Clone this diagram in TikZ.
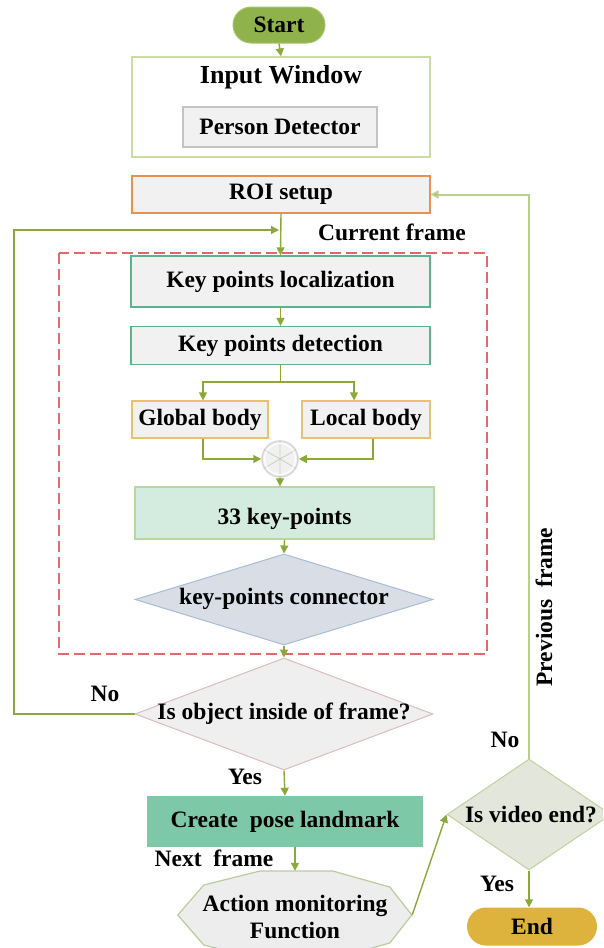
\documentclass[tikz,border=0pt]{standalone}
\usepackage{fontspec}
\setmainfont{Liberation Serif}
\usetikzlibrary{shapes.geometric,arrows.meta,calc}

\definecolor{linkgreen}{HTML}{8BA83A}
\definecolor{loopgreen}{HTML}{B9CF8F}
\definecolor{startfill}{HTML}{8FB24A}
\definecolor{startedge}{HTML}{A9C46E}
\definecolor{inputedge}{HTML}{CADCA4}
\definecolor{boxgray}{HTML}{F1F1F1}
\definecolor{pdedge}{HTML}{C4C4C4}
\definecolor{roiedge}{HTML}{E8914C}
\definecolor{kpedge}{HTML}{5FB08C}
\definecolor{bodyedge}{HTML}{E6C46C}
\definecolor{kpfill}{HTML}{D4ECDF}
\definecolor{kpline}{HTML}{B9D79F}
\definecolor{connfill}{HTML}{D9DDE6}
\definecolor{connedge}{HTML}{A8BCD5}
\definecolor{qfill}{HTML}{EFEFEF}
\definecolor{qedge}{HTML}{DCBCBC}
\definecolor{posefill}{HTML}{7DC9A7}
\definecolor{octfill}{HTML}{EDEDED}
\definecolor{octedge}{HTML}{BCCB9E}
\definecolor{vidfill}{HTML}{E3E6DA}
\definecolor{videdge}{HTML}{C0D29C}
\definecolor{endfill}{HTML}{DDB33D}
\definecolor{dashred}{HTML}{E06A6A}
\definecolor{sumedge}{HTML}{D6D6D6}
\definecolor{sumspoke}{HTML}{C9CFC2}

\tikzset{
  box/.style={rectangle, draw, line width=1.3pt, fill=boxgray, inner sep=0pt},
  pill/.style={rectangle, rounded corners=18pt, inner sep=0pt},
  decision/.style={diamond, draw, line width=1pt, inner sep=0pt},
  link/.style={draw=linkgreen, line width=1.4pt, -{Triangle[length=8pt,width=8pt]}},
  plainlink/.style={draw=linkgreen, line width=1.4pt},
  looplink/.style={draw=loopgreen, line width=2pt, -{Triangle[length=8pt,width=8pt,fill=linkgreen]}},
  txt/.style={inner sep=0pt},
}

\begin{document}
\begin{tikzpicture}[x=1pt, y=-1pt, font=\fontsize{23.5}{27}\selectfont\bfseries]
\useasboundingbox (0,0) rectangle (603,948);
\clip (0,0) rectangle (603,948);

% start and input stage
\node[pill, fill=startfill, draw=startedge, line width=1pt, minimum width=92pt, minimum height=36pt] (start) at (279,25) {Start};
\node[draw=inputedge, line width=1.2pt, minimum width=298pt, minimum height=100pt] (input) at (281,107) {};
\node[txt, font=\fontsize{26}{30}\selectfont\bfseries] (inputlbl) at (281,77) {Input Window};
\node[box, draw=pdedge, minimum width=194pt, minimum height=40pt] (pd) at (280,127) {Person Detector};
\node[box, draw=roiedge, minimum width=298pt, minimum height=37pt] (roi) at (281,194.5) {ROI setup};
\node[txt] (curlbl) at (392,232) {Current frame};

% key-point stage
\draw[dashred, line width=2pt, dash pattern=on 11pt off 5pt] (59,253) rectangle (487,654);
\node[box, draw=kpedge, minimum width=299pt, minimum height=51pt] (kpl) at (280.5,281.5) {Key points localization};
\node[box, draw=kpedge, minimum width=299pt, minimum height=38pt] (kpd) at (280.5,345.5) {Key points detection};
\coordinate (split) at (280.5,382);
\node[box, draw=bodyedge, minimum width=136pt, minimum height=37pt] (glob) at (200,419.5) {Global body};
\node[box, draw=bodyedge, minimum width=128pt, minimum height=37pt] (loc) at (366,419.5) {Local body};
\node[circle, draw=sumedge, line width=1.5pt, fill=boxgray, minimum size=36pt, inner sep=0pt] (sum) at (280,459) {};
\draw[sumspoke, line width=0.8pt] (sum.north) -- (sum.south) (sum.30) -- (sum.210) (sum.150) -- (sum.330);
\draw[white, line width=1pt] (sum.center) circle (15.5pt);
\node[box, fill=kpfill, draw=kpline, minimum width=299pt, minimum height=52pt] (kp33) at (284.5,513) {};
\node[txt] (kp33lbl) at (284.5,519) {33 key-points};
\node[decision, fill=connfill, draw=connedge, minimum width=298pt, minimum height=91pt] (conn) at (284,599.5) {};
\node[txt] (connlbl) at (284,599) {key-points connector};

% decisions and output
\node[decision, fill=qfill, draw=qedge, minimum width=298pt, minimum height=112pt] (q1) at (284,714) {};
\node[txt] (q1lbl) at (284,714) {Is object inside of frame?};
\node[fill=posefill, inner sep=0pt, minimum width=276pt, minimum height=51pt] (pose) at (285,821.5) {Create~ pose landmark};
\node[minimum width=234pt, minimum height=88pt, inner sep=0pt] (act) at (295,915) {};
\draw[octedge, fill=octfill, line width=1.2pt] (act.west) -- ++(26,-30) -- ++(56,-14) -- ++(73,0) -- ++(57,16) -- ++(22,28)
  -- ++(-22,28) -- ++(-57,16) -- ++(-73,0) -- ++(-56,-14) -- cycle;
\node[txt, align=center] (actlbl) at (295,916.5) {Action monitoring\\Function};
\node[decision, fill=vidfill, draw=videdge, minimum width=164pt, minimum height=111pt] (q2) at (529,814.5) {};
\node[txt] (q2lbl) at (531,815) {Is video end?};
\node[pill, fill=endfill, minimum width=130pt, minimum height=38pt, rounded corners=19pt] (end) at (532,926.5) {End};

% connectors
\coordinate (lt) at (14,230);
\coordinate (entry) at (279,230);
\draw[link] (start.south) -- (input.north);
\draw[link] (roi.south) -- (kpl.north);
\draw[link] (q1.west) -| (lt) -- (entry);
\draw[link] (kpl.south) -- (kpd.north);
\draw[plainlink] (kpd.south) -- (split);
\draw[link] (split) -| ([xshift=3pt]glob.north);
\draw[link] (split) -| ([xshift=-12pt]loc.north);
\draw[link] ([xshift=3pt]glob.south) |- (sum.west);
\draw[link] ([xshift=7pt]loc.south) |- (sum.east);
\draw[link] (sum.south) -- (sum.south |- kp33.north);
\draw[link] (kp33.south) -- (conn.north);
\draw[link] (conn.south) -- (q1.north);
\draw[link] (q1.south) -- (pose.north);
\draw[link] (pose.south -| act.north) -- (act.north);
\draw[link] (act.east) -- (q2.west);
\draw[link] (q2.south) -- (q2.south |- end.north);
\draw[looplink] (q2.north) |- (roi.east);

% connector labels
\node[txt] (no1) at (105,694) {No};
\node[txt] (yes1) at (245,777) {Yes};
\node[txt] (nextlbl) at (214,858) {Next~ frame};
\node[txt] (no2) at (505,740) {No};
\node[txt] (yes2) at (497,884) {Yes};
\node[txt, rotate=90] (prevlbl) at (544,607) {Previous~ frame};
\end{tikzpicture}
\end{document}
